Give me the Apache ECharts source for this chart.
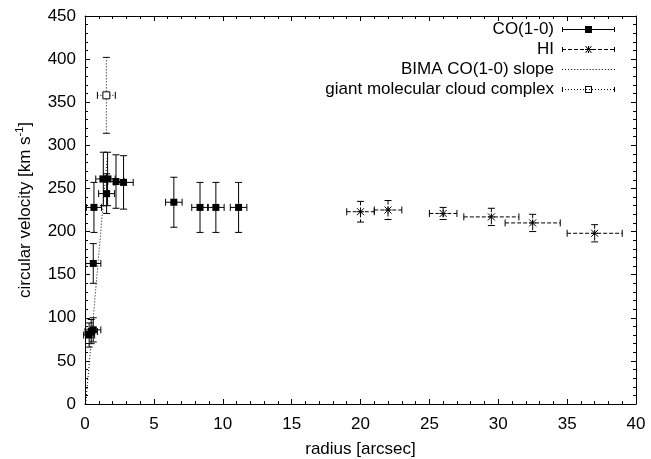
<!DOCTYPE html>
<html>
<head>
<meta charset="utf-8">
<script src="https://cdn.jsdelivr.net/npm/echarts@6/dist/echarts.min.js"></script>
<style>html,body{margin:0;padding:0;background:#fff}#c{width:651px;height:459px}</style>
</head>
<body>
<div id="c"></div>
<script>
// ---- data: [radius, velocity, radius error, velocity error] ----
const coData = [
  [0.30, 80, 0.40, 14],
  [0.45, 84, 0.45, 14],
  [0.60, 86, 0.55, 14],
  [0.60, 163, 0.55, 23],
  [0.65, 228, 0.55, 29],
  [1.33, 261, 0.55, 31],
  [1.64, 261, 0.55, 31],
  [1.57, 244, 0.58, 23],
  [2.25, 258, 0.60, 31],
  [2.80, 257, 0.70, 31],
  [6.45, 234, 0.60, 29],
  [8.35, 228, 0.60, 29],
  [9.50, 228, 0.60, 29],
  [11.15, 228, 0.60, 29]
];
const hiData = [
  [20.0, 223, 1.0, 12],
  [22.0, 225, 1.0, 11],
  [26.0, 221, 1.0, 7],
  [29.5, 217, 2.0, 10],
  [32.5, 210, 2.0, 10],
  [37.0, 198, 2.0, 10]
];
const bimaSlope = [[0.05, 0], [1.65, 292]];
const gmcData = [[1.55, 358, 0.65, 44]];
const seriesNames = ['CO(1-0)', 'HI', 'BIMA CO(1-0) slope', 'giant molecular cloud complex'];
const xTitle = 'radius [arcsec]';
const yTitle = 'circular velocity [km s{sup|-1}]';

const FONT = '"Liberation Sans", Arial, Helvetica, sans-serif';
const FS = 17;

function errRender(dash, marker) {
  return function (params, api) {
    const x = api.value(0), y = api.value(1), ex = api.value(2), ey = api.value(3);
    const c = api.coord([x, y]);
    const l = api.coord([x - ex, y]), r = api.coord([x + ex, y]);
    const t = api.coord([x, y + ey]), b = api.coord([x, y - ey]);
    const cap = 3.5;
    const st = {stroke: '#000', lineWidth: 1, lineDash: dash, fill: null};
    const solid = {stroke: '#000', lineWidth: 1};
    const ln = (x1, y1, x2, y2, s) => ({type: 'line', shape: {x1, y1, x2, y2}, style: s || st});
    const children = [
      ln(l[0], c[1], r[0], c[1]),
      ln(c[0], t[1], c[0], b[1]),
      ln(l[0], c[1] - cap, l[0], c[1] + cap, solid),
      ln(r[0], c[1] - cap, r[0], c[1] + cap, solid),
      ln(c[0] - cap, t[1], c[0] + cap, t[1], solid),
      ln(c[0] - cap, b[1], c[0] + cap, b[1], solid)
    ];
    const s = 3.5;
    if (marker === 'square') {
      children.push({type: 'rect', shape: {x: c[0] - s, y: c[1] - s, width: 2 * s, height: 2 * s}, style: {fill: '#000'}});
    } else if (marker === 'open') {
      children.push({type: 'rect', shape: {x: c[0] - s, y: c[1] - s, width: 2 * s, height: 2 * s}, style: {fill: '#fff', stroke: '#000', lineWidth: 1}});
    } else if (marker === 'star') {
      children.push(ln(c[0] - s, c[1], c[0] + s, c[1], solid));
      children.push(ln(c[0], c[1] - s, c[0], c[1] + s, solid));
      children.push(ln(c[0] - s, c[1] - s, c[0] + s, c[1] + s, solid));
      children.push(ln(c[0] - s, c[1] + s, c[0] + s, c[1] - s, solid));
    }
    return {type: 'group', children};
  };
}

// legend icon paths (53 x 7 box)
function dashPath(len, gap, w, y) {
  let p = '';
  for (let x = 0; x < w; x += len + gap) {
    const e = Math.min(x + len, w);
    p += 'M' + x + ',' + y + 'h' + (e - x) + 'v1h-' + (e - x) + 'z ';
  }
  return p;
}
const caps = 'M0,1h1v5h-1z M52,1h1v5h-1z ';
const coIcon = 'path://M0,3h53v1h-53z ' + caps + 'M23,0h7v7h-7z';
const hiIcon = 'path://' + dashPath(4, 2, 53, 3) + caps +
  'M26,0h1v7h-1z M23,3h7v1h-7z M23.2,0.5L23.9,0L29.8,6.5L29.1,7z M23.2,6.5L23.9,7L29.8,0.5L29.1,0z';
const bimaIcon = 'path://' + dashPath(1, 2, 53, 0);
const gmcIcon = 'path://' + dashPath(1, 2, 53, 3) + caps + 'M23,0h7v7h-7z M24,1v5h5v-5z';

const chart = echarts.init(document.getElementById('c'), null, {renderer: 'canvas'});
const axisCommon = {
  min: 0,
  axisLine: {show: true, onZero: false, lineStyle: {color: '#000', width: 1}},
  axisTick: {show: true, inside: true, length: 5, lineStyle: {color: '#000'}},
  minorTick: {show: true, splitNumber: 5, length: 3, lineStyle: {color: '#000'}},
  splitLine: {show: false},
  axisLabel: {color: '#000', fontSize: FS, fontFamily: FONT}
};
chart.setOption({
  animation: false,
  backgroundColor: '#fff',
  grid: {left: 85, right: 15, top: 16, bottom: 55, containLabel: false, outerBoundsMode: 'none'},
  legend: {
    right: 31, top: 16, orient: 'vertical', align: 'right',
    itemWidth: 53, itemHeight: 7, itemGap: 3,
    itemStyle: {borderWidth: 0},
    textStyle: {fontSize: FS, fontFamily: FONT, color: '#000', padding: [0, 3, 0, 0]},
    data: [
      {name: seriesNames[0], icon: coIcon},
      {name: seriesNames[1], icon: hiIcon},
      {name: seriesNames[2], icon: bimaIcon},
      {name: seriesNames[3], icon: gmcIcon}
    ]
  },
  xAxis: [
    Object.assign({}, axisCommon, {type: 'value', max: 40, interval: 5, position: 'bottom',
      name: xTitle, nameLocation: 'middle', nameGap: 37,
      nameTextStyle: {fontSize: FS, fontFamily: FONT, color: '#000'},
      axisLabel: Object.assign({}, axisCommon.axisLabel, {margin: 12})}),
    Object.assign({}, axisCommon, {type: 'value', max: 40, interval: 5, position: 'top',
      axisLabel: {show: false}})
  ],
  yAxis: [
    Object.assign({}, axisCommon, {type: 'value', max: 450, interval: 50, position: 'left',
      name: yTitle, nameLocation: 'middle', nameGap: 49, nameRotate: 90,
      nameTextStyle: {fontSize: FS, fontFamily: FONT, color: '#000',
        rich: {sup: {fontSize: 11, fontFamily: FONT, color: '#000', verticalAlign: 'top', lineHeight: 22}}},
      axisLabel: Object.assign({}, axisCommon.axisLabel, {margin: 9})}),
    Object.assign({}, axisCommon, {type: 'value', max: 450, interval: 50, position: 'right',
      axisLabel: {show: false}})
  ],
  series: [
    {name: seriesNames[0], type: 'custom', renderItem: errRender(null, 'square'),
      itemStyle: {color: '#000'}, data: coData, encode: {x: 0, y: 1}, z: 5},
    {name: seriesNames[1], type: 'custom', renderItem: errRender([4, 2], 'star'),
      itemStyle: {color: '#000'}, data: hiData, encode: {x: 0, y: 1}, z: 5},
    {name: seriesNames[2], type: 'line', data: bimaSlope, showSymbol: false, symbol: 'none',
      lineStyle: {color: '#000', width: 1, type: [1, 2]}, itemStyle: {color: '#000'}, z: 4},
    {name: seriesNames[3], type: 'custom', renderItem: errRender([1, 2], 'open'),
      itemStyle: {color: '#000'}, data: gmcData, encode: {x: 0, y: 1}, z: 6}
  ]
});
</script>
</body>
</html>
